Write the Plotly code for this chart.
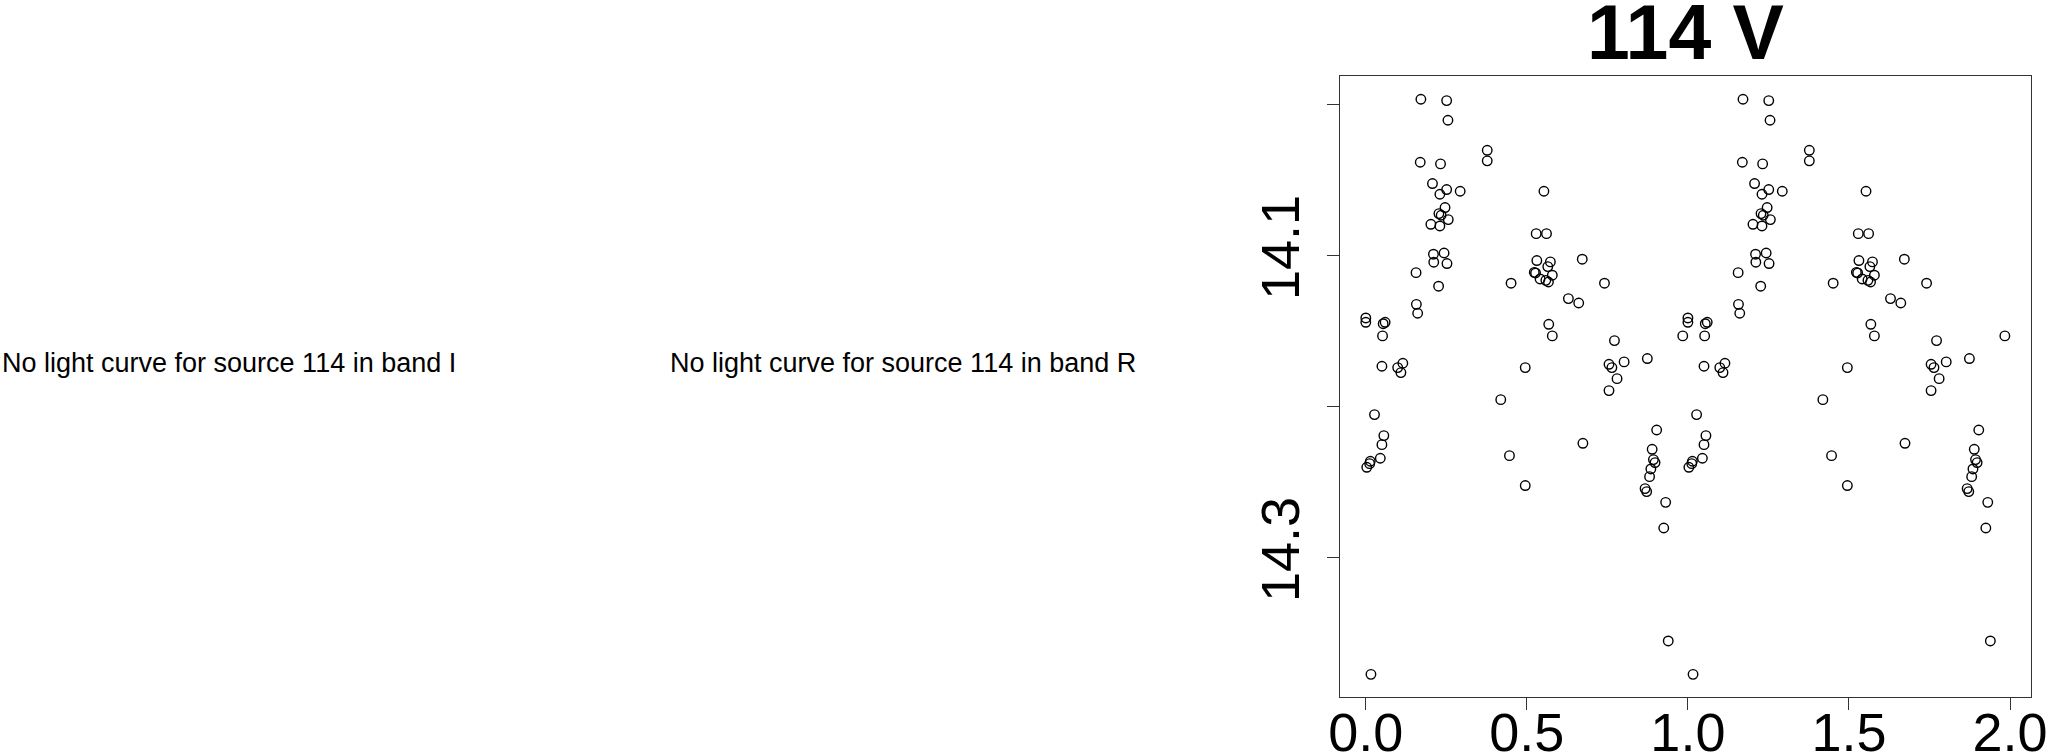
import plotly.graph_objects as go

# Folded light curve of source 114, band V (one cycle; plotted over two phases)
phase = [
    0.171, 0.251, 0.255, 0.377, 0.377, 0.169, 0.232, 0.207, 0.251, 0.230,
    0.293, 0.246, 0.227, 0.234, 0.256, 0.202, 0.230, 0.210, 0.243, 0.211,
    0.252, 0.156, 0.226, 0.157, 0.161, 0.000, 0.000, 0.060, 0.054, 0.052,
    0.050, 0.099, 0.115, 0.109, 0.451, 0.495, 0.553, 0.529, 0.561, 0.531,
    0.573, 0.565, 0.523, 0.527, 0.579, 0.541, 0.559, 0.567, 0.672, 0.741,
    0.629, 0.661, 0.568, 0.579, 0.772, 0.802, 0.755, 0.764, 0.780, 0.874,
    0.755, 0.984, 0.027, 0.056, 0.050, 0.045, 0.014, 0.012, 0.003, 0.419,
    0.446, 0.495, 0.674, 0.903, 0.889, 0.893, 0.898, 0.885, 0.881, 0.867,
    0.872, 0.931, 0.925, 0.939, 0.016,
]
mag = [
    13.9965, 13.9974, 14.0104, 14.0303, 14.0373, 14.0382, 14.0393, 14.0523, 14.0563, 14.0594,
    14.0574, 14.0682, 14.0722, 14.0733, 14.0762, 14.0793, 14.0804, 14.0991, 14.0983, 14.1044,
    14.1053, 14.1113, 14.1203, 14.1323, 14.1382, 14.1413, 14.1442, 14.1442, 14.1451, 14.1532,
    14.1733, 14.1742, 14.1713, 14.1775, 14.1183, 14.1742, 14.0574, 14.0855, 14.0855, 14.1033,
    14.1042, 14.1073, 14.1111, 14.1115, 14.1130, 14.1155, 14.1164, 14.1175, 14.1024, 14.1183,
    14.1285, 14.1314, 14.1455, 14.1532, 14.1563, 14.1704, 14.1720, 14.1742, 14.1815, 14.1682,
    14.1894, 14.1532, 14.2053, 14.2192, 14.2252, 14.2342, 14.2362, 14.2378, 14.2402, 14.1954,
    14.2325, 14.2523, 14.2243, 14.2155, 14.2283, 14.2351, 14.2371, 14.2413, 14.2464, 14.2543,
    14.2563, 14.2634, 14.2804, 14.3552, 14.3773,
]

x_tickvals = [0.0, 0.5, 1.0, 1.5, 2.0]
x_ticktext = ["0.0", "0.5", "1.0", "1.5", "2.0"]
y_tickvals = [14.0, 14.1, 14.2, 14.3]
y_ticktext = ["", "14.1", "", "14.3"]

title_text = "114 V"
missing_I = "No light curve for source 114 in band I"
missing_R = "No light curve for source 114 in band R"

x_all = phase + [p + 1 for p in phase]
y_all = mag + mag

FONT = "Liberation Sans, Arial, Helvetica, sans-serif"
LINE = "#333333"

fig = go.Figure()
fig.add_trace(go.Scatter(
    x=x_all, y=y_all, mode="markers",
    marker=dict(symbol="circle-open", size=9.5, color="black", line=dict(width=1.4, color="black")),
    hoverinfo="skip",
))

W, H = 2051, 754
L, R, T, B = 1340, 20, 76, 57
pw = W - L - R
ph = H - T - B

def px2paper_x(px):
    return (px - L) / pw

def py2paper_y(py):
    return 1 - (py - T) / ph

fig.update_layout(
    width=W, height=H, autosize=False,
    margin=dict(l=L, r=R, t=T, b=B, pad=0, autoexpand=False),
    plot_bgcolor="white", paper_bgcolor="white",
    showlegend=False,
    font=dict(family=FONT, color="black"),
    xaxis=dict(
        range=[-0.0801, 2.0652], tickvals=x_tickvals, ticktext=x_ticktext,
        ticks="outside", ticklen=12, tickwidth=1, tickcolor=LINE,
        ticklabelstandoff=-24,
        showline=True, mirror=True, linecolor=LINE, linewidth=1,
        showgrid=False, zeroline=False, automargin=False,
        tickfont=dict(family=FONT, size=54, color="black"),
    ),
    yaxis=dict(
        range=[14.3923, 13.9811], tickvals=y_tickvals, ticktext=y_ticktext,
        ticks="outside", ticklen=12, tickwidth=1, tickcolor=LINE, tickangle=-90,
        ticklabelstandoff=6,
        showline=True, mirror=True, linecolor=LINE, linewidth=1,
        showgrid=False, zeroline=False, automargin=False,
        tickfont=dict(family=FONT, size=54, color="black"),
    ),
    annotations=[
        dict(text="<b>" + title_text + "</b>", xref="paper", yref="paper",
             x=0.5, y=py2paper_y(32), xanchor="center", yanchor="middle",
             showarrow=False, font=dict(family=FONT, size=77, color="black")),
        dict(text=missing_I, xref="paper", yref="paper",
             x=px2paper_x(228.5), y=py2paper_y(363), xanchor="center", yanchor="middle",
             showarrow=False, font=dict(family=FONT, size=27, color="black")),
        dict(text=missing_R, xref="paper", yref="paper",
             x=px2paper_x(903.3), y=py2paper_y(363), xanchor="center", yanchor="middle",
             showarrow=False, font=dict(family=FONT, size=27, color="black")),
    ],
)

fig.write_html(
    "out.html",
    config={"displayModeBar": False},
    post_script="document.body.style.margin='0';document.body.style.padding='0';document.body.style.overflow='hidden';",
)
